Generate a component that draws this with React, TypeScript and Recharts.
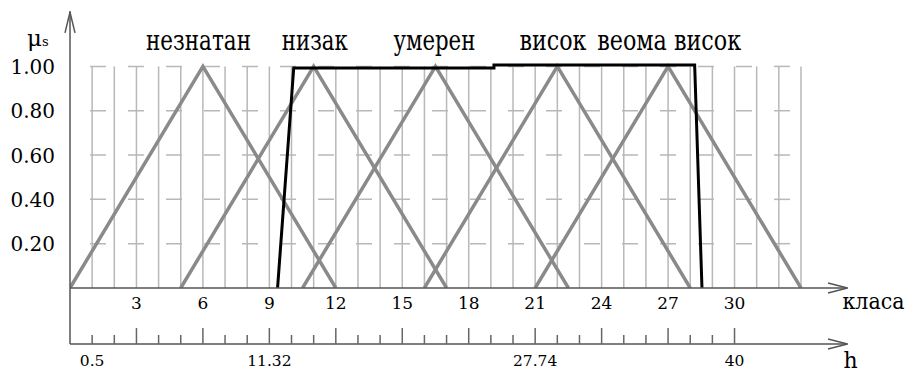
import React from 'react';
import { LineChart, Line, XAxis, YAxis, ReferenceLine, ReferenceDot } from 'recharts';

// ---- data ----
const classTicks = [3, 6, 9, 12, 15, 18, 21, 24, 27, 30];
const yTicks = [0.2, 0.4, 0.6, 0.8, 1.0];
const hTicks = [1, 2, 3, 4, 5, 6, 7, 8, 9, 10, 11, 12, 13, 14, 15, 16, 17, 18, 19, 20, 21, 22, 23, 24, 25, 26, 27, 28, 29, 30];
const hLabelPos = [1, 9, 21, 30];
const hLabelText = ['0.5', '11.32', '27.74', '40'];
const gridX = [1, 2, 3, 4, 5, 6, 7, 8, 9, 10, 11, 12, 13, 14, 15, 16, 17, 18, 19, 20, 21, 22, 23, 24, 25, 26, 27, 28, 29, 30, 31, 32, 33];
const setNames = ['незнатан', 'низак', 'умерен', 'висок', 'веома висок'];
const setNameX = [5.8, 11.05, 16.45, 21.8, 27.05];
const setNameWidth = [105, 66, 82, 67, 144];

const neznatan = [{ x: 0, y: 0 }, { x: 6, y: 1 }, { x: 12, y: 0 }];
const nizak = [{ x: 5, y: 0 }, { x: 11, y: 1 }, { x: 17, y: 0 }];
const umeren = [{ x: 10.5, y: 0 }, { x: 16.5, y: 1 }, { x: 22.5, y: 0 }];
const visok = [{ x: 16, y: 0 }, { x: 22, y: 1 }, { x: 28, y: 0 }];
const veomaVisok = [{ x: 21, y: 0 }, { x: 27, y: 1 }, { x: 33, y: 0 }];
const measured = [
  { x: 9.37, y: 0 },
  { x: 10.1, y: 0.993 },
  { x: 19.14, y: 0.993 },
  { x: 19.14, y: 1.006 },
  { x: 28.2, y: 1.006 },
  { x: 28.53, y: 0 },
];

const X_MAX = 35.1;
const Y_MAX = 1.25;
const H_Y = -0.2527; // level of the second (h) axis in y units

const FONT = 'DejaVu Serif';
const AXIS = '#555';
const GRID = '#b8b8b8';
const TRI = '#8a8a8a';

const HTick = (props: any) => {
  const { x, y, payload } = props;
  const v = payload.value;
  const long = v % 3 === 0;
  const idx = hLabelPos.indexOf(v);
  return (
    <g>
      <line x1={x} x2={x} y1={y} y2={y - (long ? 16 : 9)} stroke="#666" strokeWidth={1.5} />
      {idx >= 0 && (
        <text x={x} y={y + 22} textAnchor="middle" fontSize={15.5} fontFamily={FONT} fill="#000">
          {hLabelText[idx]}
        </text>
      )}
    </g>
  );
};

const ClassTick = (props: any) => {
  const { x, y, payload } = props;
  return (
    <text x={x} y={y + 21} textAnchor="middle" fontSize={17} fontFamily={FONT} fill="#000">
      {payload.value}
    </text>
  );
};

const YTick = (props: any) => {
  const { x, y, payload } = props;
  return (
    <text x={x} y={y + 7.5} textAnchor="end" fontSize={20} fontFamily={FONT} fill="#000">
      {Number(payload.value).toFixed(2)}
    </text>
  );
};

const SetLabel = (props: any) => {
  const { viewBox, value, w } = props;
  const cx = viewBox.x + (viewBox.width || 0) / 2;
  return (
    <text
      x={cx}
      y={viewBox.y - 16}
      textAnchor="middle"
      fontSize={27}
      fontFamily={FONT}
      fill="#000"
      textLength={w}
      lengthAdjust="spacingAndGlyphs"
    >
      {value}
    </text>
  );
};

export default function App() {
  return (
    <div style={{ position: 'absolute', left: 0, top: 0, background: '#fff' }}>
      <LineChart width={909} height={372} margin={{ top: 11, right: 61.5, bottom: 0, left: 10 }}>
        <XAxis
          type="number"
          dataKey="x"
          domain={[0, X_MAX]}
          allowDataOverflow
          ticks={classTicks}
          interval={0}
          height={56}
          tickLine={false}
          tickSize={0}
          tickMargin={0}
          axisLine={{ stroke: AXIS, strokeWidth: 1.5 }}
          tick={<ClassTick />}
          label={{
            content: (p: any) => (
              <text
                x={p.viewBox.x + p.viewBox.width - 5}
                y={p.viewBox.y + 21}
                fontSize={22.5}
                fontFamily={FONT}
                fill="#000"
                textLength={62}
                lengthAdjust="spacingAndGlyphs"
              >
                класа
              </text>
            ),
          }}
        />
        <XAxis
          xAxisId="h"
          type="number"
          dataKey="x"
          domain={[0, X_MAX]}
          allowDataOverflow
          ticks={hTicks}
          interval={0}
          height={28}
          tickLine={false}
          tickSize={0}
          tickMargin={0}
          axisLine={{ stroke: AXIS, strokeWidth: 1.5 }}
          tick={<HTick />}
          label={{
            content: (p: any) => (
              <text x={p.viewBox.x + p.viewBox.width - 4} y={p.viewBox.y + 24} fontSize={22} fontFamily={FONT} fill="#000">
                h
              </text>
            ),
          }}
        />
        <YAxis
          type="number"
          domain={[0, Y_MAX]}
          allowDataOverflow
          ticks={yTicks}
          interval={0}
          width={60}
          tickLine={false}
          tickSize={0}
          tickMargin={15}
          axisLine={{ stroke: AXIS, strokeWidth: 1.5 }}
          tick={<YTick />}
          label={{
            content: (p: any) => (
              <text x={p.viewBox.x + 17} y={p.viewBox.y + 35} fontFamily={FONT} fill="#000">
                <tspan fontSize={23}>μ</tspan>
                <tspan fontSize={13}>s</tspan>
              </text>
            ),
          }}
        />

        {gridX.map((k) => (
          <ReferenceLine
            key={'gx' + k}
            segment={[{ x: k, y: 0 }, { x: k, y: 1 }]}
            stroke={GRID}
            strokeWidth={1.5}
            ifOverflow="visible"
          />
        ))}
        {yTicks.map((v) => (
          <ReferenceLine
            key={'gy' + v}
            segment={[{ x: 0, y: v }, { x: 33, y: v }]}
            stroke={GRID}
            strokeWidth={1.5}
            strokeDasharray="16 22"
            strokeDashoffset={18}
            ifOverflow="visible"
          />
        ))}

        {/* axis extension and arrows */}
        <ReferenceLine segment={[{ x: 0, y: 0 }, { x: 0, y: H_Y }]} stroke={AXIS} strokeWidth={1.5} ifOverflow="visible" />
        <ReferenceLine segment={[{ x: -0.226, y: 1.151 }, { x: 0, y: 1.245 }]} stroke={AXIS} strokeWidth={1.5} ifOverflow="visible" />
        <ReferenceLine segment={[{ x: 0.226, y: 1.151 }, { x: 0, y: 1.245 }]} stroke={AXIS} strokeWidth={1.5} ifOverflow="visible" />
        <ReferenceLine segment={[{ x: 34.22, y: 0.0226 }, { x: X_MAX, y: 0 }]} stroke={AXIS} strokeWidth={1.5} ifOverflow="visible" />
        <ReferenceLine segment={[{ x: 34.22, y: -0.0226 }, { x: X_MAX, y: 0 }]} stroke={AXIS} strokeWidth={1.5} ifOverflow="visible" />
        <ReferenceLine segment={[{ x: 34.22, y: H_Y + 0.0226 }, { x: X_MAX, y: H_Y }]} stroke={AXIS} strokeWidth={1.5} ifOverflow="visible" />
        <ReferenceLine segment={[{ x: 34.22, y: H_Y - 0.0226 }, { x: X_MAX, y: H_Y }]} stroke={AXIS} strokeWidth={1.5} ifOverflow="visible" />

        <Line data={neznatan} dataKey="y" stroke={TRI} strokeWidth={3.5} dot={false} isAnimationActive={false} />
        <Line data={nizak} dataKey="y" stroke={TRI} strokeWidth={3.5} dot={false} isAnimationActive={false} />
        <Line data={umeren} dataKey="y" stroke={TRI} strokeWidth={3.5} dot={false} isAnimationActive={false} />
        <Line data={visok} dataKey="y" stroke={TRI} strokeWidth={3.5} dot={false} isAnimationActive={false} />
        <Line data={veomaVisok} dataKey="y" stroke={TRI} strokeWidth={3.5} dot={false} isAnimationActive={false} />
        <Line data={measured} dataKey="y" stroke="#000" strokeWidth={3} dot={false} isAnimationActive={false} />

        {setNames.map((name, i) => (
          <ReferenceDot
            key={name}
            x={setNameX[i]}
            y={1}
            r={0}
            fill="none"
            stroke="none"
            ifOverflow="visible"
            label={<SetLabel value={name} w={setNameWidth[i]} />}
          />
        ))}
      </LineChart>
    </div>
  );
}
